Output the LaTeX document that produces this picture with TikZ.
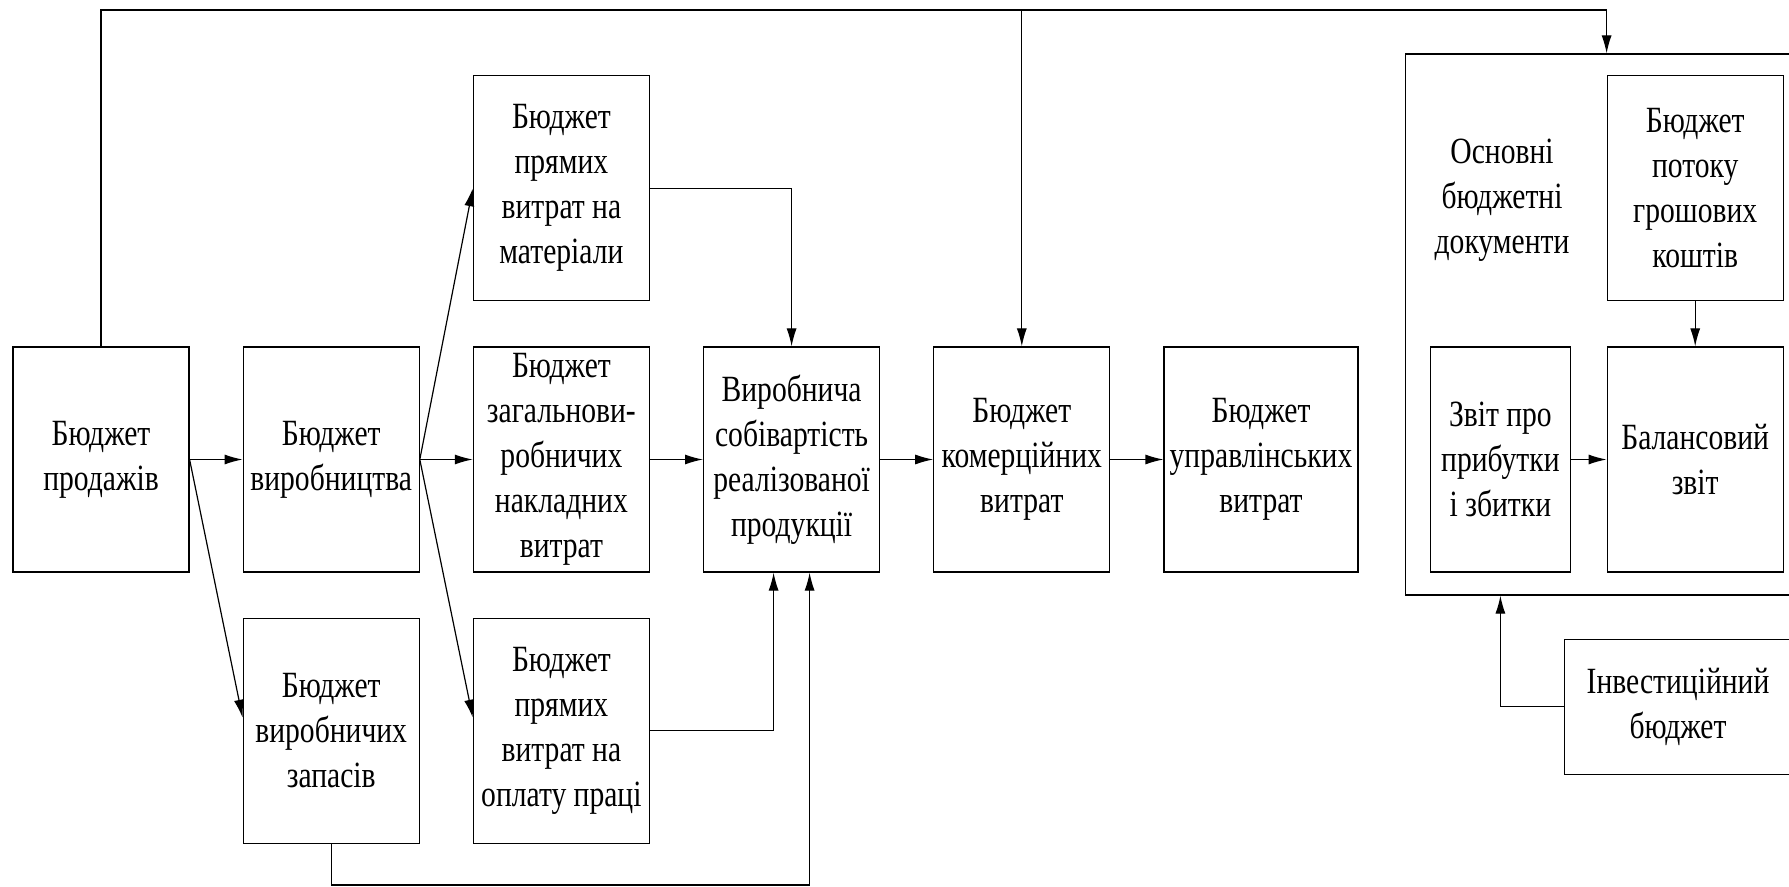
\documentclass[tikz,border=0pt]{standalone}
\usepackage{fontspec}
\setmainfont{Liberation Serif}
\newfontfamily\boxfont{Liberation Serif}[FakeStretch=0.8]
\usepackage{tikz}
\usetikzlibrary{arrows.meta, positioning, calc}

\begin{document}
\begin{tikzpicture}[x=0.5pt, y=-0.5pt, node distance=22.5pt and 26.5pt, >={Latex[length=9pt,width=5pt]}, line width=0.6pt]
    \tikzstyle{budget} = [rectangle, draw, align=center, inner sep=0pt, minimum width=88pt, minimum height=112.5pt, font=\boxfont\fontsize{18.5pt}{22.5pt}\selectfont]
    \tikzstyle{plain} = [align=center, inner sep=0pt, font=\boxfont\fontsize{18.5pt}{22.5pt}\selectfont]
    \tikzstyle{link} = [draw, ->]

    \clip (0,0) rectangle (1789,887);

    \node [budget] (sales) at (101,459.5) {Бюджет\\продажів};
    \node [budget, right=of sales] (prod) {Бюджет\\виробництва};
    \node [budget, below=of prod] (stocks) {Бюджет\\виробничих\\запасів};
    \node [budget, right=of prod] (over) {Бюджет\\загальнови-\\робничих\\накладних\\витрат};
    \node [budget, above=of over] (mat) {Бюджет\\прямих\\витрат на\\матеріали};
    \node [budget, below=of over] (labour) {Бюджет\\прямих\\витрат на\\оплату праці};
    \node [budget, right=of over] (cost) {Виробнича\\собівартість\\реалізованої\\продукції};
    \node [budget, right=of cost] (comm) {Бюджет\\комерційних\\витрат};
    \node [budget, right=of comm, minimum width=97pt] (mgmt) {Бюджет\\управлінських\\витрат};

    \node [budget, right=35.6pt of mgmt, minimum width=70pt] (profit) {Звіт про\\прибутки\\і збитки};
    \node [budget, right=17.8pt of profit] (balance) {Балансовий\\звіт};
    \node [budget, above=of balance] (cash) {Бюджет\\потоку\\грошових\\коштів};
    \node [rectangle, draw, minimum width=193.25pt, minimum height=270.5pt] (docs) at (1598.75,324.5) {};
    \node [plain] (docslabel) at (1502,200) {Основні\\бюджетні\\документи};
    \node [budget, minimum width=113.75pt, minimum height=67.5pt] (inv) at (1678,706.8) {Інвестиційний\\бюджет};

    \coordinate (top) at (0,10);
    \coordinate (bottom) at (0,885);

    % top line
    \path [link] (sales.north) |- (top -| cash.west) -- (cash.west |- docs.north);
    \path [link] (comm.north |- top) -- (comm.north);

    \path [link] (sales.east) -- (prod.west);
    \path [link] (sales.east) -- ([yshift=6.5pt]stocks.west);
    \path [link] (prod.east) -- (mat.west);
    \path [link] (prod.east) -- (over.west);
    \path [link] (prod.east) -- ([yshift=6.5pt]labour.west);

    \path [link] (mat.east) -| (cost.north);
    \path [link] (over.east) -- (cost.west);
    \path [link] (labour.east) -| ([xshift=-9pt]cost.south);
    \path [link] (stocks.south) |- (bottom -| cost.south) -| ([xshift=9pt]cost.south);

    \path [link] (cost.east) -- (comm.west);
    \path [link] (comm.east) -- (mgmt.west);

    \path [link] (cash.south) -- (balance.north);
    \path [link] (profit.east) -- (balance.west);
    \path [link] (inv.west) -| (profit.south |- docs.south);
\end{tikzpicture}
\end{document}
